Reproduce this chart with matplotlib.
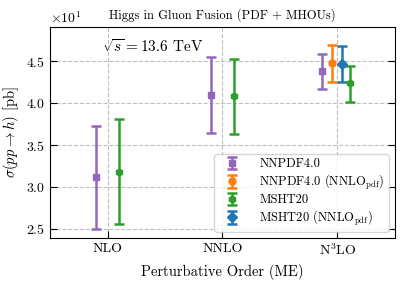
import numpy as np
import matplotlib
matplotlib.use('Agg')
import matplotlib.pyplot as plt
from matplotlib.ticker import ScalarFormatter

plt.rcParams['font.family'] = 'cmr10'
plt.rcParams['mathtext.fontset'] = 'cm'
plt.rcParams['axes.unicode_minus'] = False
plt.rcParams['axes.formatter.use_mathtext'] = True
plt.rcParams['font.size'] = 10

orders = ['NLO', 'NNLO', r'N$^3$LO']

# series: order index, central value, upper, lower (pb)
nnpdf_x = [0, 1, 2]
nnpdf_c = [31.15, 40.9, 43.77]
nnpdf_hi = [37.3, 45.44, 45.9]
nnpdf_lo = [25.0, 36.47, 41.63]

nnpdf_nnlo_x = [2]
nnpdf_nnlo_c = [44.73]
nnpdf_nnlo_hi = [46.9]
nnpdf_nnlo_lo = [42.54]

msht_x = [0, 1, 2]
msht_c = [31.75, 40.83, 42.34]
msht_hi = [38.1, 45.3, 44.44]
msht_lo = [25.6, 36.3, 40.15]

msht_nnlo_x = [2]
msht_nnlo_c = [44.64]
msht_nnlo_hi = [46.8]
msht_nnlo_lo = [42.46]


def plot_series(ax, x, c, hi, lo, shift, color, marker, label):
    x = np.array(x) + np.array(shift)
    c = np.array(c)
    err = [c - np.array(lo), np.array(hi) - c]
    ax.errorbar(x, c, yerr=err, fmt=marker, color=color, ms=5, capsize=3.5,
                elinewidth=1.8, capthick=1.8, label=label)


fig, ax = plt.subplots(figsize=(4.07, 2.85), dpi=100)
plot_series(ax, nnpdf_x, nnpdf_c, nnpdf_hi, nnpdf_lo, [-0.1, -0.1, -0.13],
            '#9467bd', 's', 'NNPDF4.0')
plot_series(ax, nnpdf_nnlo_x, nnpdf_nnlo_c, nnpdf_nnlo_hi, nnpdf_nnlo_lo, [-0.05],
            '#ff7f0e', 'o', r'NNPDF4.0 (NNLO$_{\rm pdf}$)')
plot_series(ax, msht_x, msht_c, msht_hi, msht_lo, [0.1, 0.1, 0.11],
            '#2ca02c', 'h', 'MSHT20')
plot_series(ax, msht_nnlo_x, msht_nnlo_c, msht_nnlo_hi, msht_nnlo_lo, [0.04],
            '#1f77b4', 'D', r'MSHT20 (NNLO$_{\rm pdf}$)')

ax.set_xlim(-0.5, 2.5)
ax.set_ylim(23.93, 49.05)
ax.set_xticks([0, 1, 2])
ax.set_xticklabels(orders)
ax.set_yticks([25, 30, 35, 40, 45])
fmt = ScalarFormatter(useMathText=True)
fmt.set_powerlimits((0, 0))
ax.yaxis.set_major_formatter(fmt)
ax.tick_params(direction='in', which='both', top=False, right=True, length=5)
ax.grid(True, ls='--', color='#b0b0b0', alpha=0.8)
ax.set_axisbelow(True)

ax.set_xlabel('Perturbative Order (ME)', fontsize=10.5)
ax.set_ylabel(r'$\sigma(pp\to h)$ [pb]', fontsize=10.5)
ax.set_title('Higgs in Gluon Fusion (PDF + MHOUs)', fontsize=9)
ax.text(0.15, 0.95, r'$\sqrt{s} = 13.6$ TeV', transform=ax.transAxes,
        ha='left', va='top', fontsize=11)
ax.legend(loc='lower right', fontsize=9, labelspacing=0.2, borderpad=0.3,
          handlelength=2.3, handletextpad=1.0)

fig.subplots_adjust(left=0.123, right=0.97, top=0.905, bottom=0.165)
fig.savefig('out.png', dpi=100)
